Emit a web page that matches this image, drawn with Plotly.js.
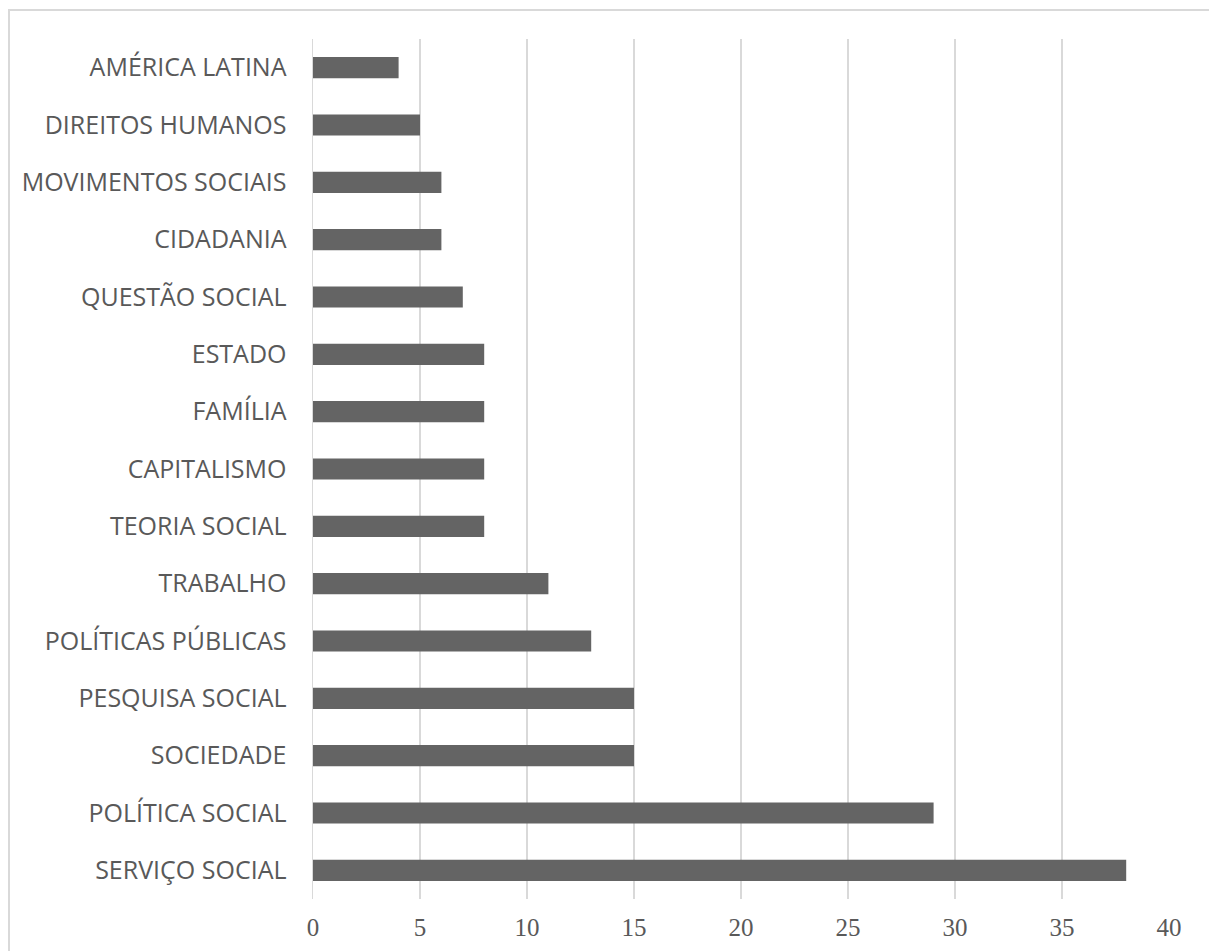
<!DOCTYPE html>
<html>
<head>
<meta charset="utf-8">
<script src="https://cdn.plot.ly/plotly-3.0.1.min.js"></script>
<style>
  html, body { margin: 0; padding: 0; background: #ffffff; overflow: hidden; }
  #frame { position: absolute; left: 8px; top: 9px; width: 1300px; height: 1100px;
           border-left: 2px solid #d9d9d9; border-top: 2px solid #d9d9d9; }
  #chart { position: absolute; left: 0; top: 0; width: 1209px; height: 951px; }
</style>
</head>
<body>
<div id="frame"></div>
<div id="chart"></div>
<script>
const categories = [
  "SERVIÇO SOCIAL", "POLÍTICA SOCIAL", "SOCIEDADE", "PESQUISA SOCIAL",
  "POLÍTICAS PÚBLICAS", "TRABALHO", "TEORIA SOCIAL", "CAPITALISMO",
  "FAMÍLIA", "ESTADO", "QUESTÃO SOCIAL", "CIDADANIA",
  "MOVIMENTOS SOCIAIS", "DIREITOS HUMANOS", "AMÉRICA LATINA"
];
const values = [38, 29, 15, 15, 13, 11, 8, 8, 8, 8, 7, 6, 6, 5, 4];
const xTicks = [0, 5, 10, 15, 20, 25, 30, 35, 40];

const trace = {
  type: "bar",
  orientation: "h",
  y: categories,
  x: values,
  marker: { color: "#646464" },
  hoverinfo: "x+y"
};

const layout = {
  width: 1209,
  height: 951,
  paper_bgcolor: "rgba(0,0,0,0)",
  plot_bgcolor: "rgba(0,0,0,0)",
  margin: { l: 313, r: 40, t: 39, b: 52 },
  bargap: 0.63,
  showlegend: false,
  xaxis: {
    range: [0, 40],
    tickvals: xTicks,
    ticktext: xTicks.map(String),
    showgrid: true,
    gridcolor: "#d9d9d9",
    gridwidth: 1.5,
    zeroline: false,
    showline: false,
    ticks: "outside",
    ticklen: 6,
    tickcolor: "rgba(0,0,0,0)",
    tickfont: { family: "Liberation Serif, serif", size: 25, color: "#595959" },
    fixedrange: true
  },
  yaxis: {
    type: "category",
    categoryorder: "array",
    categoryarray: categories,
    showgrid: false,
    showline: true,
    linecolor: "#d9d9d9",
    linewidth: 1.5,
    ticks: "outside",
    ticklen: 20,
    tickcolor: "rgba(0,0,0,0)",
    tickfont: { family: "Open Sans, sans-serif", size: 25, color: "#595959" },
    fixedrange: true
  }
};

Plotly.newPlot("chart", [trace], layout, { displayModeBar: false, staticPlot: true });
</script>
</body>
</html>
